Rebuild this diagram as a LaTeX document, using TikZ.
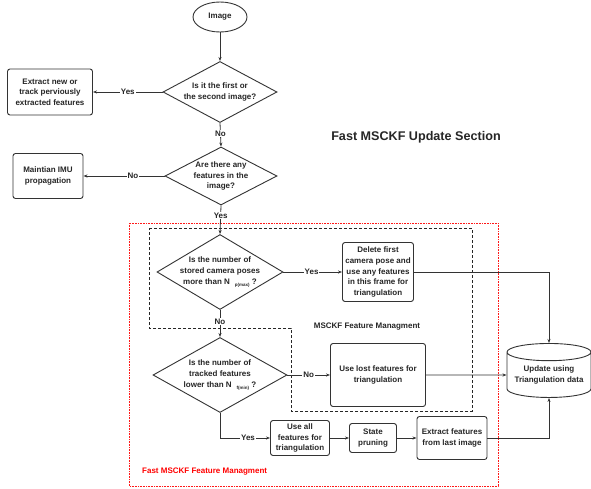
\documentclass[tikz,border=0pt]{standalone}
\usepackage{fontspec}
\setmainfont{Liberation Sans}
\usetikzlibrary{shapes.geometric,arrows.meta}
\begin{document}
\begin{tikzpicture}[x=1pt,y=-1pt,
  every node/.style={font=\bfseries\fontsize{8}{10.7}\selectfont, text=black!85, inner sep=0pt},
  box/.style={draw=black!80, line width=0.9pt, rounded corners=2.5pt, align=center},
  dia/.style={draw=black!80, line width=0.9pt, diamond, align=center, inner sep=-6pt},
  conn/.style={draw=black!80, line width=0.8pt, -{Stealth[length=4pt,width=3pt]}},
  lab/.style={fill=white, inner sep=1pt}
]
\useasboundingbox (0,0) rectangle (591,489);
\fill[white] (0,0) rectangle (591,489);

% frames
\draw[red!90, line width=0.6pt, densely dotted] (129,223) rectangle (498,486);
\draw[black!85, line width=0.9pt, dash pattern=on 3pt off 2pt]
  (149,228) -- (472,228) -- (472,411) -- (291,411) -- (291,328) -- (149,328) -- cycle;

% nodes
\node[draw=black!80, line width=0.9pt, ellipse, minimum width=54, minimum height=30] (img) at (220,17) {Image};
\node[dia, minimum width=114, minimum height=61, aspect=1.87] (d1) at (220,92) {Is it the first or\\the second image?};
\node[box, minimum width=85, minimum height=46] (b1) at (50,92) {Extract new or\\track perviously\\extracted features};
\node[dia, minimum width=112, minimum height=58, aspect=1.93] (d2) at (221,176) {Are there any\\features in the\\image?};
\node[box, minimum width=70, minimum height=45] (b2) at (48,176) {Maintian IMU\\propagation};
\node[dia, minimum width=126, minimum height=75, aspect=1.68] (d3) at (220,272) {Is the number of\\stored camera poses\\more than N\hspace{5pt}\raisebox{-0.5ex}{\fontsize{4.5}{4.5}\selectfont p(max)} ?};
\node[box, minimum width=71, minimum height=59] (b3) at (378,272) {Delete first\\camera pose and\\use any features\\in this frame for\\triangulation};
\node[dia, minimum width=134, minimum height=75, aspect=1.79] (d4) at (220,375) {Is the number of\\tracked features\\lower than N\hspace{5pt}\raisebox{-0.5ex}{\fontsize{4.5}{4.5}\selectfont f(min)} ?};
\node[box, minimum width=95, minimum height=63] (b4) at (378,375) {Use lost features for\\triangulation};
\node[box, minimum width=59, minimum height=35] (b5) at (300,438) {Use all\\features for\\triangulation};
\node[box, minimum width=47, minimum height=29] (b6) at (373,438) {State\\pruning};
\node[box, minimum width=70, minimum height=43] (b7) at (452,438) {Extract features\\from last image};
\node[draw=black!80, line width=0.9pt, cylinder, shape border rotate=90, aspect=0.25,
      minimum width=84, minimum height=54, align=center] (cyl) at (549,375) {Update using\\Triangulation data};

% labels
\node[font=\bfseries\fontsize{12.6}{15}\selectfont] (title) at (416,137) {Fast MSCKF Update Section};
\node (msckf) at (367,327) {MSCKF Feature Managment};
\node[anchor=west, text=red] (fast) at (142,472) {Fast MSCKF Feature Managment};

% connectors
\draw[conn] (img) -- (d1);
\draw[conn] (d1.west) -- node[lab] {Yes} (b1.east);
\draw[conn] (d1.south) -- node[lab, pos=0.45] {No} (d2.north);
\draw[conn] (d2.west) -- node[lab, pos=0.39] {No} (b2.east);
\draw[conn] (d2.south) -- node[lab, pos=0.35] {Yes} (d3.north);
\draw[conn] (d3.east) -- node[lab, pos=0.48] {Yes} (b3.west);
\draw[conn] (d3.south) -- node[lab, pos=0.43] {No} (d4.north);
\draw[conn] (d4.east) -- node[lab] {No} (b4.west);
\draw[conn] (d4.south) |- node[lab, pos=0.78] {Yes} (b5.west);
\draw[conn] (b5) -- (b6);
\draw[conn] (b6) -- (b7);
\draw[conn] (b3.east) -| (cyl.north);
\draw[conn] (b4.east) -- (cyl.west);
\draw[conn] (b7.east) -| (cyl.south);
\end{tikzpicture}
\end{document}
